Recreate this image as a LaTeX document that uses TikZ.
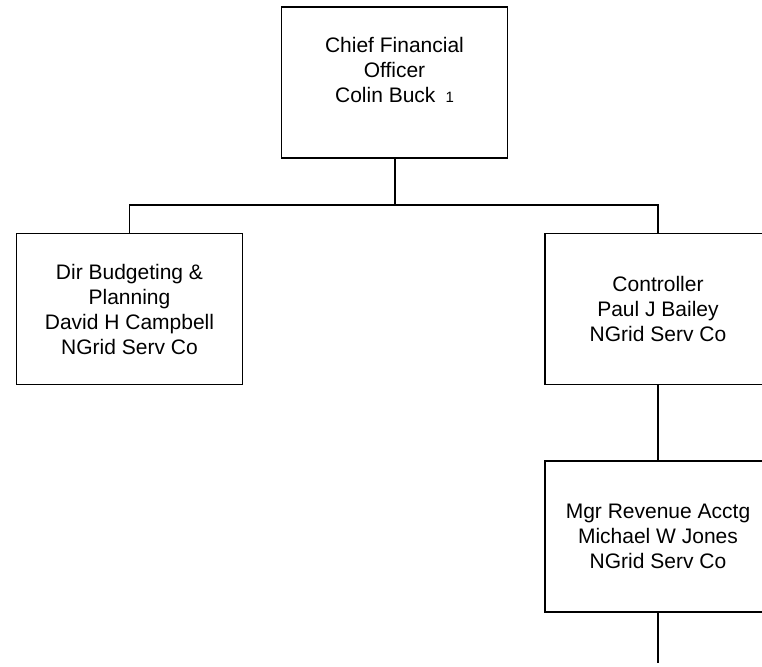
\documentclass[tikz,border=0pt]{standalone}
\usepackage{fontspec}
\setmainfont{Liberation Sans}
\begin{document}
\begin{tikzpicture}[x=1pt,y=-1pt,
  orgbox/.style={draw, line width=1.3pt, minimum width=226pt, minimum height=151pt,
    inner sep=0pt, align=center, font=\fontsize{21}{25}\selectfont},
  link/.style={line width=1.3pt},
  stem/.style={line width=2pt}]
\fill[white] (0,0) rectangle (762,666);
\clip (0,0) rectangle (762,666);
\node[orgbox] (cfo) at (394.5,82.5) {Chief Financial\\Officer\\Colin Buck\hspace{10pt}{\fontsize{15}{25}\selectfont 1}\\\mbox{}};
\node[orgbox] (budget) at (129.5,309) {Dir Budgeting \&\\Planning\\David H Campbell\\NGrid Serv Co};
\node[orgbox] (ctrl) at (658,309) {Controller\\Paul J Bailey\\NGrid Serv Co};
\node[orgbox] (mgr) at (658,536.5) {Mgr Revenue Acctg\\Michael W Jones\\NGrid Serv Co};
\coordinate (bar) at (394.5,205);
\coordinate (tail) at (658,663);
\draw[stem] (cfo.south) -- (bar);
\draw[link] (budget.north) |- (bar) -| (ctrl.north);
\draw[link] (ctrl.south) -- (mgr.north);
\draw[link] (mgr.south) -- (tail);
\end{tikzpicture}
\end{document}
